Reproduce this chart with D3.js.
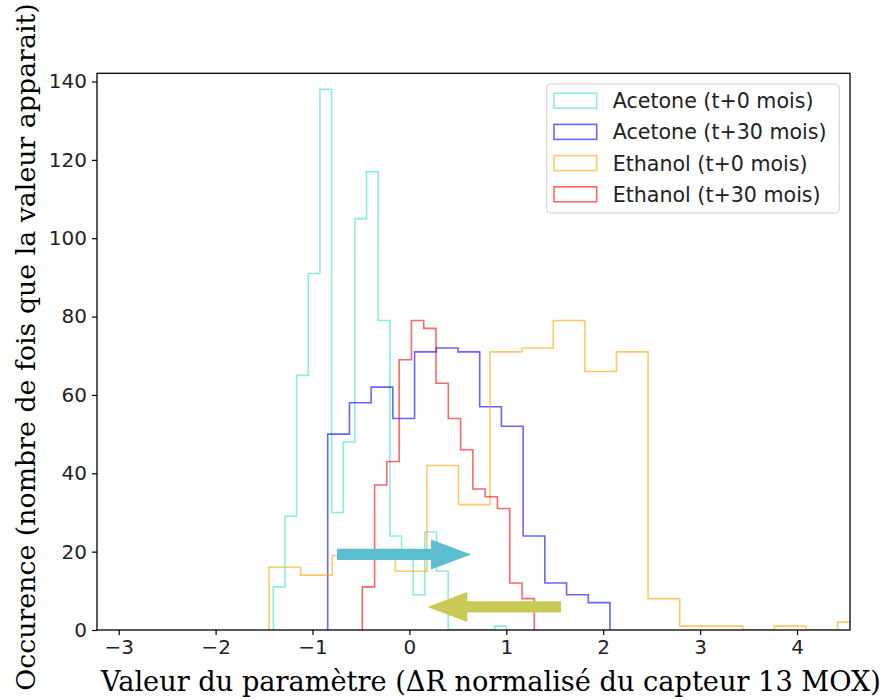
<!DOCTYPE html>
<html><head><meta charset="utf-8">
<script src="https://cdn.jsdelivr.net/npm/d3@7"></script>
<style>body{margin:0;background:#fff}svg{display:block}</style>
</head><body>
<svg id="chart" width="884" height="700"></svg>
<script>
// ---- data ----
const seriesNames = ["Acetone (t+0 mois)", "Acetone (t+30 mois)", "Ethanol (t+0 mois)", "Ethanol (t+30 mois)"];
const seriesColors = ["#40E0D0", "blue", "orange", "red"];
// bin range [first edge, last edge] of each histogram
const acetone0Range = [-1.4045, 1.0015];
const acetone0Counts = [11, 29, 65, 91, 138, 30, 48, 105, 117, 79, 24, 19, 9, 25, 15, 0, 0, 0, 0, 1];
const acetone30Range = [-0.843, 2.070];
const acetone30Counts = [50, 58, 62, 54, 71, 72, 71, 57, 52, 24, 12, 9, 7];
const ethanol0Range = [-1.449, 4.745];
const ethanol0Counts = [16, 14, 19, 19, 15, 42, 32, 71, 72, 79, 66, 71, 8, 1, 1, 0, 1, 0, 2];
const ethanol30Range = [-0.486, 1.289];
const ethanol30Counts = [11, 37, 43, 69, 79, 77, 63, 54, 46, 36, 34, 31, 12, 8];
const xTicks = [-3, -2, -1, 0, 1, 2, 3, 4];
const yTicks = [0, 20, 40, 60, 80, 100, 120, 140];
const xDomain = [-3.224, 4.547];
const yDomain = [0, 142.1];
// annotation arrows (data coords): from -> to at height y
const arrows = [
  {from: -0.747, to: 0.636, y: 19.3, color: "#5bbfd0"},
  {from: 1.565, to: 0.185, y: 5.9, color: "#c9c955"}
];
const xLabel = "Valeur du paramètre (ΔR normalisé du capteur 13 MOX)";
const yLabel = "Occurence (nombre de fois que la valeur apparait)";

// ---- drawing ----
const L = 97, R = 850, T = 73.3, B = 630;
const svg = d3.select("#chart");
const x = d3.scaleLinear().domain(xDomain).range([L, R]);
const y = d3.scaleLinear().domain(yDomain).range([B, T]);

svg.append("defs").append("clipPath").attr("id", "clip")
  .append("rect").attr("x", L).attr("y", T).attr("width", R - L).attr("height", B - T);

const series = [
  {range: acetone0Range, counts: acetone0Counts},
  {range: acetone30Range, counts: acetone30Counts},
  {range: ethanol0Range, counts: ethanol0Counts},
  {range: ethanol30Range, counts: ethanol30Counts}
];

const plot = svg.append("g").attr("clip-path", "url(#clip)");
series.forEach((s, i) => {
  const n = s.counts.length;
  const edge = d3.scaleLinear().domain([0, n]).range(s.range);
  const pts = [[edge(0), 0]];
  s.counts.forEach((c, k) => { pts.push([edge(k), c]); pts.push([edge(k + 1), c]); });
  pts.push([edge(n), 0]);
  const line = d3.line().x(d => x(d[0])).y(d => y(d[1]));
  plot.append("path").attr("d", line(pts))
    .attr("fill", "none").attr("stroke", seriesColors[i]).attr("stroke-opacity", 0.6)
    .attr("stroke-width", 1.6).attr("stroke-linejoin", "miter");
});

// arrows
const shaftH = 5.6, headH = 15, headL = 40;
arrows.forEach(a => {
  const x0 = x(a.from), x1 = x(a.to), yc = y(a.y);
  const dir = x1 > x0 ? 1 : -1;
  const xb = x1 - dir * headL;
  const poly = [[x0, yc - shaftH], [xb, yc - shaftH], [xb, yc - headH], [x1, yc],
                [xb, yc + headH], [xb, yc + shaftH], [x0, yc + shaftH]];
  svg.append("path").attr("d", d3.line()(poly) + "Z").attr("fill", a.color);
});

// axes
const fontSans = "'DejaVu Sans', sans-serif";
const xAxis = svg.append("g").attr("transform", `translate(0,${B})`)
  .call(d3.axisBottom(x).tickValues(xTicks).tickSize(5).tickPadding(5).tickFormat(d3.format("d")));
const yAxis = svg.append("g").attr("transform", `translate(${L},0)`)
  .call(d3.axisLeft(y).tickValues(yTicks).tickSize(5).tickPadding(5).tickFormat(d3.format("d")));
[xAxis, yAxis].forEach(g => {
  g.select(".domain").remove();
  g.selectAll(".tick line").attr("stroke", "#000").attr("stroke-width", 1.2);
  g.selectAll(".tick text").attr("font-family", fontSans).attr("font-size", 20).attr("fill", "#222");
});
svg.append("rect").attr("x", L).attr("y", T).attr("width", R - L).attr("height", B - T)
  .attr("fill", "none").attr("stroke", "#000").attr("stroke-width", 1.3);

// legend
const lg = svg.append("g");
lg.append("rect").attr("x", 546.7).attr("y", 84).attr("width", 292.6).attr("height", 129)
  .attr("rx", 4).attr("fill", "#fff").attr("fill-opacity", 0.8).attr("stroke", "#d0d0d0");
seriesNames.forEach((name, i) => {
  const cy = 100.7 + i * 31.2;
  lg.append("rect").attr("x", 554).attr("y", cy - 7.5).attr("width", 42.7).attr("height", 15)
    .attr("fill", "none").attr("stroke", seriesColors[i]).attr("stroke-opacity", 0.6).attr("stroke-width", 1.6);
  lg.append("text").attr("x", 612.7).attr("y", cy).attr("dy", "0.36em")
    .attr("font-family", fontSans).attr("font-size", 20.6).attr("fill", "#222").text(name);
});

// axis labels
const fontSerif = "'DejaVu Serif', serif";
svg.append("text").attr("x", 491).attr("y", 691).attr("text-anchor", "middle")
  .attr("font-family", fontSerif).attr("font-size", 27.2).attr("fill", "#000").text(xLabel);
svg.append("text").attr("transform", "translate(35,347) rotate(-90)").attr("text-anchor", "middle")
  .attr("font-family", fontSerif).attr("font-size", 26.8).attr("fill", "#000").text(yLabel);
</script>
</body></html>
